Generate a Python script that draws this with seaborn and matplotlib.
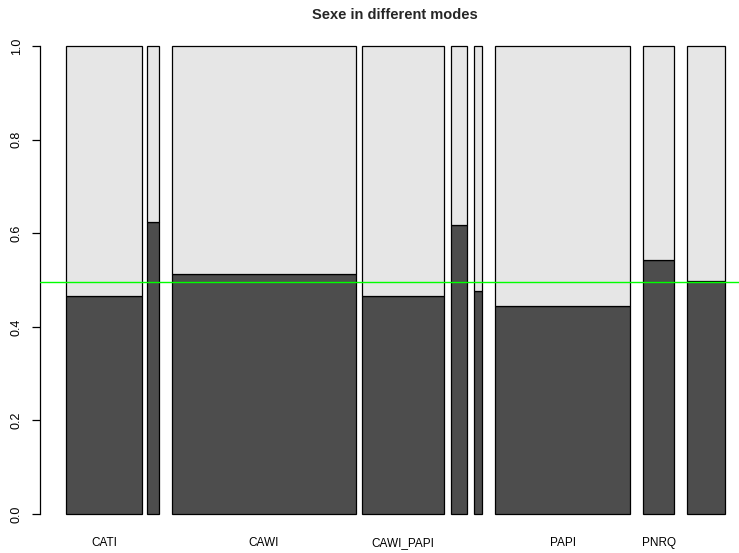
import numpy as np
import matplotlib
matplotlib.use("Agg")
import matplotlib.pyplot as plt
import seaborn as sns

# ---- data ----
modes = ["CATI", "", "CAWI", "CAWI_PAPI", "", "", "PAPI", "PNRQ", ""]
counts = [757, 117, 1834, 823, 166, 86, 1350, 307, 380]
share_dark = [0.467, 0.625, 0.513, 0.466, 0.617, 0.476, 0.445, 0.543, 0.499]
overall_share = 0.495
title = "Sexe in different modes"
yticks = [0.0, 0.2, 0.4, 0.6, 0.8, 1.0]

# ---- layout ----
gaps = [56, 133, 63, 64, 64, 130, 130, 127]

sns.set_style("white")
plt.rcParams["font.family"] = ["Liberation Sans", "DejaVu Sans"]

fig = plt.figure(figsize=(7.39, 5.53), dpi=100)
ax = fig.add_axes([40 / 739, 20.3 / 553, 699 / 739, 505.2 / 553])

counts_a = np.array(counts, dtype=float)
lefts = np.concatenate([[0.0], np.cumsum(counts_a[:-1] + np.array(gaps))])
dark = np.array(share_dark)
light = 1 - dark

ax.bar(lefts, dark, width=counts_a, align="edge", color="#4D4D4D",
       edgecolor="black", linewidth=0.9)
ax.bar(lefts, light, bottom=dark, width=counts_a, align="edge", color="#E6E6E6",
       edgecolor="black", linewidth=0.9)
ax.axhline(overall_share, color="#00FF00", linewidth=1.0, zorder=5)

ax.set_xlim(-260, 6730)
ax.set_ylim(-0.04, 1.04)

for s in ["top", "right", "bottom"]:
    ax.spines[s].set_visible(False)
ax.spines["left"].set_bounds(0, 1)
ax.spines["left"].set_color("black")
ax.spines["left"].set_linewidth(0.9)

ax.set_yticks(yticks)
ax.set_yticklabels([f"{v:.1f}" for v in yticks], rotation=90, va="center",
                   fontsize=9)
ax.tick_params(axis="y", left=True, length=5.5, width=0.9, color="black",
               pad=7, labelcolor="black")

ax.set_xticks(lefts + counts_a / 2)
ax.set_xticklabels(modes, fontsize=8.5, color="black")
ax.tick_params(axis="x", bottom=False, length=0, pad=3)

ax.grid(False)
fig.text(395 / 739, 1 - 15 / 553, title, ha="center", va="center",
         fontsize=10.5, fontweight="bold")

fig.savefig("out.png", dpi=100)
